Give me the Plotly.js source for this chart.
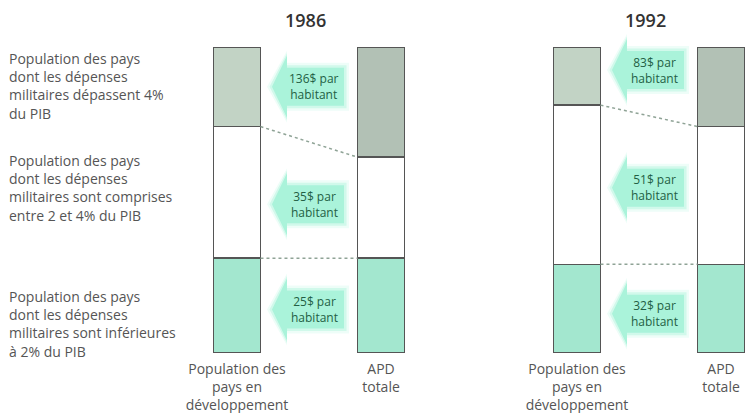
<!DOCTYPE html>
<html>
<head>
<meta charset="utf-8">
<script src="https://cdn.plot.ly/plotly-3.0.1.min.js"></script>
<style>html,body{margin:0;padding:0;background:#fff;}#chart{width:756px;height:413px;}</style>
</head>
<body>
<div id="chart"></div>
<script>
// ---- data ----
const years = ['1986', '1992'];
const barNames = ['Population des<br>pays en<br>développement', 'APD<br>totale'];
// segment shares (%), bottom to top: <2% du PIB, 2-4% du PIB, >4% du PIB
const pop1986 = [31, 43, 26];
const apd1986 = [31, 33, 36];
const pop1992 = [29, 52, 19];
const apd1992 = [29, 45, 26];
// APD par habitant ($), bottom to top
const perCapita1986 = [25, 35, 136];
const perCapita1992 = [32, 51, 83];
const groupLabels = [
  'Population des pays<br>dont les dépenses<br>militaires sont inférieures<br>à 2% du PIB',
  'Population des pays<br>dont les dépenses<br>militaires sont comprises<br>entre 2 et 4% du PIB',
  'Population des pays<br>dont les dépenses<br>militaires dépassent 4%<br>du PIB'
];

// ---- layout constants ----
const W = 756, H = 413, T = 47, B = 60;
const plotH = H - T - B;
const FONT = '"Open Sans", "Noto Sans", sans-serif';
const barW = 0.326;
const pxPerUnit = 144;
const axes = [
  {x: 'x', y: 'y', domainPx: [165, 165 + 2.0 * pxPerUnit], range: [-0.5, 1.5]},
  {x: 'x2', y: 'y2', domainPx: [505, 505 + 1.7 * pxPerUnit], range: [-0.5, 1.2]}
];
const segColors = [
  ['#a3e7cf', '#a3e7cf'],
  ['#ffffff', '#ffffff'],
  ['#c2d3c5', '#b2c1b5']
];
const arrowShift = [[4, 12, 0], [5, 3, -6]];
const groupLabelY = [324, 188, 86];

const series = [[pop1986, apd1986], [pop1992, apd1992]];
const perCapita = [perCapita1986, perCapita1992];

const traces = [];
const shapes = [];
const annotations = [];

const py2paper = py => (H - B - py) / plotH;
const px2paper = px => px / W;
const val2py = v => H - B - v / 100 * plotH;

function arrowPath(g, cy, e) {
  const pts = [
    [g - 37 - e, cy],
    [g - 22, cy - 31 - e],
    [g - 22, cy - 19 - e],
    [g + 35 + e, cy - 19 - e],
    [g + 35 + e, cy + 19 + e],
    [g - 22, cy + 19 + e],
    [g - 22, cy + 31 + e]
  ];
  return 'M' + pts.map(p => px2paper(p[0]).toFixed(5) + ',' + py2paper(p[1]).toFixed(5)).join(' L') + ' Z';
}

years.forEach((yr, i) => {
  const ax = axes[i];
  const [pop, apd] = series[i];
  for (let k = 0; k < 3; k++) {
    traces.push({
      type: 'bar',
      x: barNames,
      y: [pop[k], apd[k]],
      xaxis: ax.x, yaxis: ax.y,
      width: barW,
      marker: {color: segColors[k], line: {color: '#555555', width: 1.4}},
      hoverinfo: 'skip'
    });
  }
  // dotted connectors
  const cumPop = [pop[0], pop[0] + pop[1]];
  const cumApd = [apd[0], apd[0] + apd[1]];
  for (let j = 0; j < 2; j++) {
    shapes.push({
      type: 'line', xref: ax.x, yref: ax.y,
      x0: barW / 2, x1: 1 - barW / 2,
      y0: cumPop[j], y1: cumApd[j],
      line: {color: '#8fa396', width: 1.5, dash: 'dot'},
      layer: 'above'
    });
  }
  // year title
  annotations.push({
    xref: ax.x, yref: 'paper', x: 0.5, y: py2paper(20), xshift: -4,
    text: yr, showarrow: false,
    font: {family: FONT, size: 18, color: '#333333', weight: 600},
    xanchor: 'center', yanchor: 'middle'
  });
  // arrows
  const g = ax.domainPx[0] + (0.5 - ax.range[0]) * pxPerUnit;
  let base = 0;
  for (let k = 0; k < 3; k++) {
    const mid = base + pop[k] / 2;
    base += pop[k];
    const cy = val2py(mid) + arrowShift[i][k];
    [[5, 'rgba(170,244,220,0.2)'], [2.5, 'rgba(165,242,216,0.4)'], [0, 'rgba(165,242,216,0.9)']].forEach(([e, c]) => {
      shapes.push({
        type: 'path', xref: 'paper', yref: 'paper',
        path: arrowPath(g, cy, e),
        fillcolor: c, line: {width: 0}, layer: 'below'
      });
    });
    annotations.push({
      xref: 'paper', yref: 'paper', x: px2paper(g + 5), y: py2paper(cy),
      text: perCapita[i][k] + '$ par<br>habitant', showarrow: false,
      font: {family: FONT, size: 12, color: '#235f44'},
      xanchor: 'center', yanchor: 'middle', align: 'center'
    });
  }
});

groupLabels.forEach((t, k) => {
  annotations.push({
    xref: 'paper', yref: 'paper', x: px2paper(7), y: py2paper(groupLabelY[k]),
    text: t, showarrow: false,
    font: {family: FONT, size: 14, color: '#555555'},
    xanchor: 'left', yanchor: 'middle', align: 'left'
  });
});

const xaxisBase = {
  type: 'category', showgrid: false, zeroline: false, showline: false,
  ticks: '', fixedrange: true,
  tickfont: {family: FONT, size: 14, color: '#555555'},
  ticklabelstandoff: 6
};
const layout = {
  width: W, height: H,
  margin: {l: 0, r: 0, t: T, b: B},
  paper_bgcolor: '#ffffff', plot_bgcolor: 'rgba(0,0,0,0)',
  showlegend: false, barmode: 'stack',
  xaxis: Object.assign({}, xaxisBase, {domain: axes[0].domainPx.map(px2paper), range: axes[0].range, anchor: 'y'}),
  xaxis2: Object.assign({}, xaxisBase, {domain: axes[1].domainPx.map(px2paper), range: axes[1].range, anchor: 'y2'}),
  yaxis: {range: [0, 100], visible: false, anchor: 'x'},
  yaxis2: {range: [0, 100], visible: false, anchor: 'x2'},
  shapes: shapes,
  annotations: annotations
};
Plotly.newPlot('chart', traces, layout, {displayModeBar: false, staticPlot: true});
</script>
</body>
</html>
